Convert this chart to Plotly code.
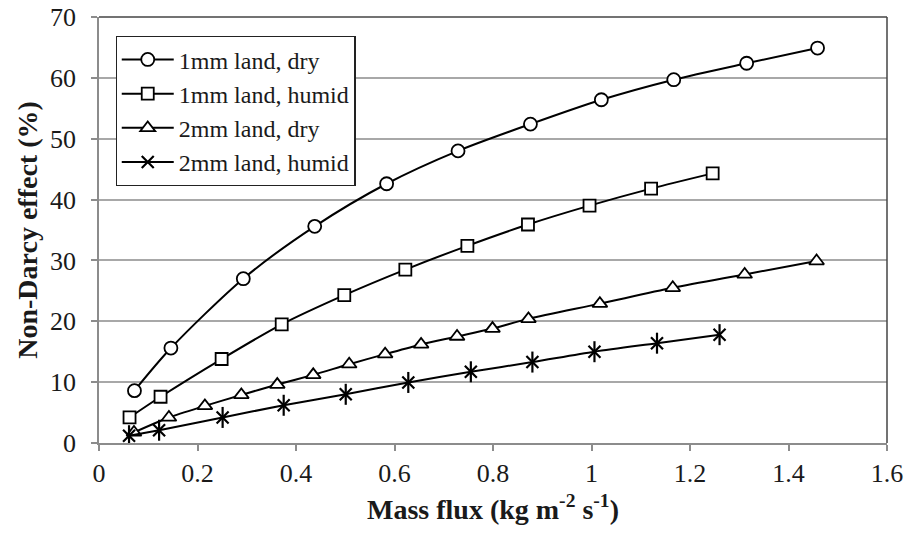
import plotly.graph_objects as go

# Mass flux (kg m-2 s-1) and non-Darcy effect (%) for each land width / humidity case
flux_1mm_dry = [0.072, 0.146, 0.293, 0.438, 0.584, 0.729, 0.876, 1.020, 1.167, 1.315, 1.459]
effect_1mm_dry = [8.6, 15.6, 27.0, 35.6, 42.6, 48.0, 52.4, 56.4, 59.7, 62.4, 64.9]

flux_1mm_humid = [0.062, 0.125, 0.249, 0.371, 0.498, 0.622, 0.748, 0.871, 0.996, 1.121, 1.246]
effect_1mm_humid = [4.2, 7.6, 13.8, 19.5, 24.3, 28.5, 32.4, 35.9, 39.0, 41.8, 44.3]

flux_2mm_dry = [0.071, 0.142, 0.215, 0.289, 0.362, 0.435, 0.508, 0.581, 0.654, 0.727,
                0.799, 0.872, 1.017, 1.165, 1.311, 1.457]
effect_2mm_dry = [1.75, 4.2, 6.1, 7.9, 9.6, 11.2, 12.95, 14.6, 16.2, 17.5,
                  18.8, 20.4, 22.9, 25.5, 27.7, 29.9]

flux_2mm_humid = [0.061, 0.122, 0.251, 0.375, 0.501, 0.628, 0.755, 0.880, 1.006, 1.133, 1.260]
effect_2mm_humid = [1.2, 2.1, 4.2, 6.2, 8.0, 9.95, 11.7, 13.3, 15.0, 16.4, 17.8]

x_ticks = [0, 0.2, 0.4, 0.6, 0.8, 1.0, 1.2, 1.4, 1.6]
x_tick_labels = ["0", "0.2", "0.4", "0.6", "0.8", "1", "1.2", "1.4", "1.6"]
y_ticks = [0, 10, 20, 30, 40, 50, 60, 70]

FONT = "Liberation Serif"
INK = "#1a1a1a"
LINE = dict(color="black", width=2, shape="spline", smoothing=0.8)


def marker(symbol, size=12):
    return dict(symbol=symbol, size=size, color="white",
                line=dict(color="black", width=1.8))


fig = go.Figure()

fig.add_trace(go.Scatter(x=flux_1mm_dry, y=effect_1mm_dry, mode="lines+markers",
                         name="1mm land, dry", line=LINE, marker=marker("circle", 13)))
fig.add_trace(go.Scatter(x=flux_1mm_humid, y=effect_1mm_humid, mode="lines+markers",
                         name="1mm land, humid", line=LINE, marker=marker("square", 12)))
fig.add_trace(go.Scatter(x=flux_2mm_dry, y=effect_2mm_dry, mode="lines+markers",
                         name="2mm land, dry", line=LINE, marker=marker("triangle-up", 13)))
# six-armed star: diagonal cross plus a vertical stroke
fig.add_trace(go.Scatter(x=flux_2mm_humid, y=effect_2mm_humid, mode="lines+markers",
                         name="2mm land, humid", line=LINE,
                         marker=dict(symbol="x-thin-open", size=12, color="black",
                                     line=dict(color="black", width=2.2))))
fig.add_trace(go.Scatter(x=flux_2mm_humid, y=effect_2mm_humid, mode="markers",
                         showlegend=False, hoverinfo="skip",
                         marker=dict(symbol="line-ns-open", size=15, color="black",
                                     line=dict(color="black", width=2.2))))

axis_grey = "#8c8c8c"
fig.update_xaxes(range=[0, 1.6], tickvals=x_ticks, ticktext=x_tick_labels,
                 showgrid=False, zeroline=False,
                 showline=True, linecolor=axis_grey, linewidth=1.5,
                 ticks="outside", ticklen=6, tickcolor=axis_grey, tickwidth=1.5,
                 tickfont=dict(family=FONT, size=26, color=INK),
                 title=dict(text="<b>Mass flux (kg m<sup>-2</sup> s<sup>-1</sup>)</b>",
                            font=dict(family=FONT, size=28, color=INK),
                            standoff=12))
fig.update_yaxes(range=[0, 70], tickvals=y_ticks,
                 showgrid=True, gridcolor="#a8a8a8", gridwidth=1.5, zeroline=False,
                 showline=True, linecolor=axis_grey, linewidth=1.5,
                 ticks="outside", ticklen=6, tickcolor=axis_grey, tickwidth=1.5,
                 ticklabelstandoff=10,
                 tickfont=dict(family=FONT, size=26, color=INK),
                 title=dict(text="<b>Non-Darcy effect (%)</b>",
                            font=dict(family=FONT, size=28, color=INK),
                            standoff=4))

# dark frame on the top and right sides of the plot area
fig.add_shape(type="line", xref="paper", yref="paper", x0=0, x1=1, y0=1, y1=1,
              line=dict(color="#444444", width=1.5))
fig.add_shape(type="line", xref="paper", yref="paper", x0=1, x1=1, y0=0, y1=1,
              line=dict(color="#444444", width=1.5))

fig.update_layout(
    width=906, height=535,
    margin=dict(l=99, r=19, t=17, b=92, autoexpand=False),
    paper_bgcolor="white", plot_bgcolor="white",
    showlegend=True,
    legend=dict(x=0.021, y=0.955, xanchor="left", yanchor="top",
                bgcolor="white", bordercolor="#222222", borderwidth=1.2,
                font=dict(family=FONT, size=24, color=INK),
                itemwidth=52, tracegroupgap=0),
)

fig.write_html("out.html")
